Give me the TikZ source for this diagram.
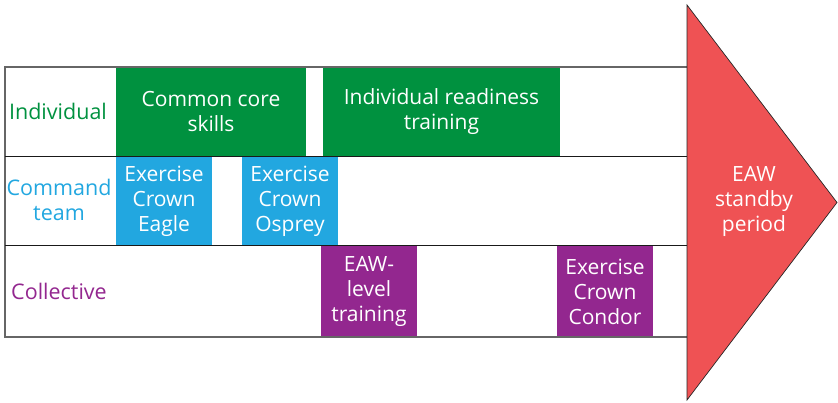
\documentclass[tikz,border=0pt]{standalone}
\usepackage{fontspec}
\setmainfont{Open Sans}
\definecolor{indgreen}{HTML}{00913F}
\definecolor{cmdblue}{HTML}{22A7E0}
\definecolor{colpurple}{HTML}{93278F}
\definecolor{eawred}{HTML}{EF5254}
\begin{document}
\begin{tikzpicture}[
      x=1pt, y=-1pt,
      act/.style={inner sep=0pt, text=white, align=center, font=\fontsize{21}{25}\selectfont},
      ind/.style={act, fill=indgreen, minimum height=89pt},
      cmd/.style={act, fill=cmdblue, minimum height=88pt, minimum width=96pt},
      col/.style={act, fill=colpurple, minimum height=90pt, minimum width=96pt},
      rowlbl/.style={align=center, font=\fontsize{21.5}{25}\selectfont}]
      \useasboundingbox (0,0) rectangle (838,403);
      % activities
      \node[ind, minimum width=190pt] (core) at (211,111.5) {Common core\\skills};
      \node[ind, minimum width=237pt] (readiness) at (441.5,111.5) {Individual readiness\\training};
      \node[cmd] (eagle) at (164,201) {Exercise\\Crown\\Eagle};
      \node[cmd] (osprey) at (290,201) {Exercise\\Crown\\Osprey};
      \node[col] (eawlevel) at (369,291.5) {EAW-\\level\\training};
      \node[col] (condor) at (605,291.5) {Exercise\\Crown\\Condor};
      % rows
      \draw[black!60, line width=1.2pt] (687,67) -- (5,67) -- (5,337) -- (687,337);
      \draw[black!90, line width=1.6pt] (5,156.5) -- (687,156.5);
      \draw[black!90, line width=1.6pt] (5,245.5) -- (687,245.5);
      \node[rowlbl, text=indgreen] (individual) at (58,111) {Individual};
      \node[rowlbl, text=cmdblue] (command) at (59,200) {Command\\team};
      \node[rowlbl, text=colpurple] (collective) at (59,291) {Collective};
      % standby arrow
      \filldraw[fill=eawred, draw=black!85, line width=0.7pt] (687,5) -- (837,202.5) -- (687,400) -- cycle;
      \node[act] (standby) at (754,201) {EAW\\standby\\period};
    \end{tikzpicture}
\end{document}
